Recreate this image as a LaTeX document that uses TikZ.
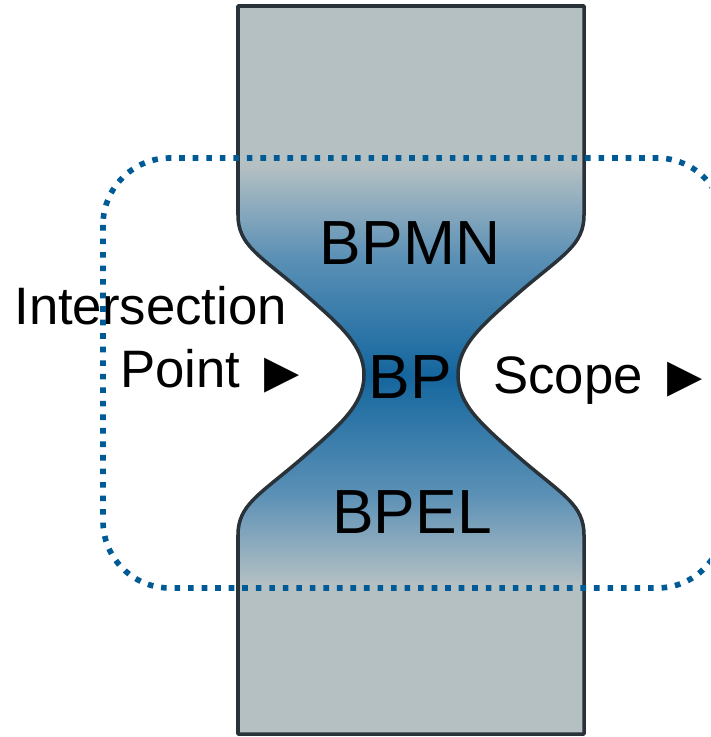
\documentclass[tikz,border=0pt]{standalone}
\usepackage{fontspec}
\setmainfont{Liberation Sans}
\newfontfamily\symfont{DejaVu Sans}
\usepackage{tikz}
\usetikzlibrary{calc, positioning}
\usepackage{xcolor}

\definecolor{hggray}{RGB}{181,192,195}
\definecolor{hgblue}{RGB}{92,145,182}
\definecolor{hgdark}{RGB}{20,102,158}
\definecolor{hgline}{RGB}{40,50,56}
\definecolor{scopeblue}{RGB}{0,90,150}

\begin{document}
\begin{tikzpicture}[
  x=0.02cm, y=-0.02cm,
  outline/.style={draw=hgline, line width=2pt, line join=round},
  scopebox/.style={draw=scopeblue, line width=3.2pt, dash pattern=on 3.2pt off 4.5pt, rounded corners=1.34cm},
  big/.style={font=\fontsize{35.5}{40}\selectfont, inner sep=0pt},
  lab/.style={font=\fontsize{30}{34}\selectfont, inner sep=0pt, anchor=base west},
  tri/.style={font=\symfont\fontsize{26}{30}\selectfont, inner sep=0pt, anchor=base west}
]
\useasboundingbox (0,0) rectangle (710,737);
\clip (0,0) rectangle (710,737);

\def\hgpath{(238,6) -- (584,6) -- (584,215)
  .. controls (584,245) and (563,255) .. (522,290)
  .. controls (482,325) and (458,345) .. (458,375)
  .. controls (458,405) and (482,425) .. (522,460)
  .. controls (563,495) and (584,505) .. (584,535)
  -- (584,734) -- (238,734) -- (238,535)
  .. controls (238,505) and (259,495) .. (300,460)
  .. controls (340,425) and (364,405) .. (364,375)
  .. controls (364,345) and (340,325) .. (300,290)
  .. controls (259,255) and (238,245) .. (238,215) -- cycle}

% hourglass body
\begin{scope}
  \clip \hgpath;
  \fill[hggray] (230,0) rectangle (590,740);
  \shade[top color=hggray, bottom color=hgblue] (230,165) rectangle (590,256);
  \shade[top color=hgblue, bottom color=hgdark] (230,255) rectangle (590,376);
  \shade[top color=hgdark, bottom color=hgblue] (230,375) rectangle (590,496);
  \shade[top color=hgblue, bottom color=hggray] (230,495) rectangle (590,585);
\end{scope}
\draw[outline] \hgpath;

\node[big, anchor=base] (bpmn) at (410,264) {BPMN};
\node[big, anchor=base] (bp)   at (410,398) {BP};
\node[big, anchor=base] (bpel) at (412,533) {BPEL};

\node[lab] (inter) at (14,324)  {Intersection};
\node[lab] (point) at (120,387) {Point};
\node[tri] (ptri) at (264,387) {▶};
\node[lab] (scope) at (493,393) {Scope};
\node[tri] (stri) at (667,391) {▶};

% scope of the intersection
\draw[scopebox] (103,158) rectangle (724,588);

\end{tikzpicture}
\end{document}
